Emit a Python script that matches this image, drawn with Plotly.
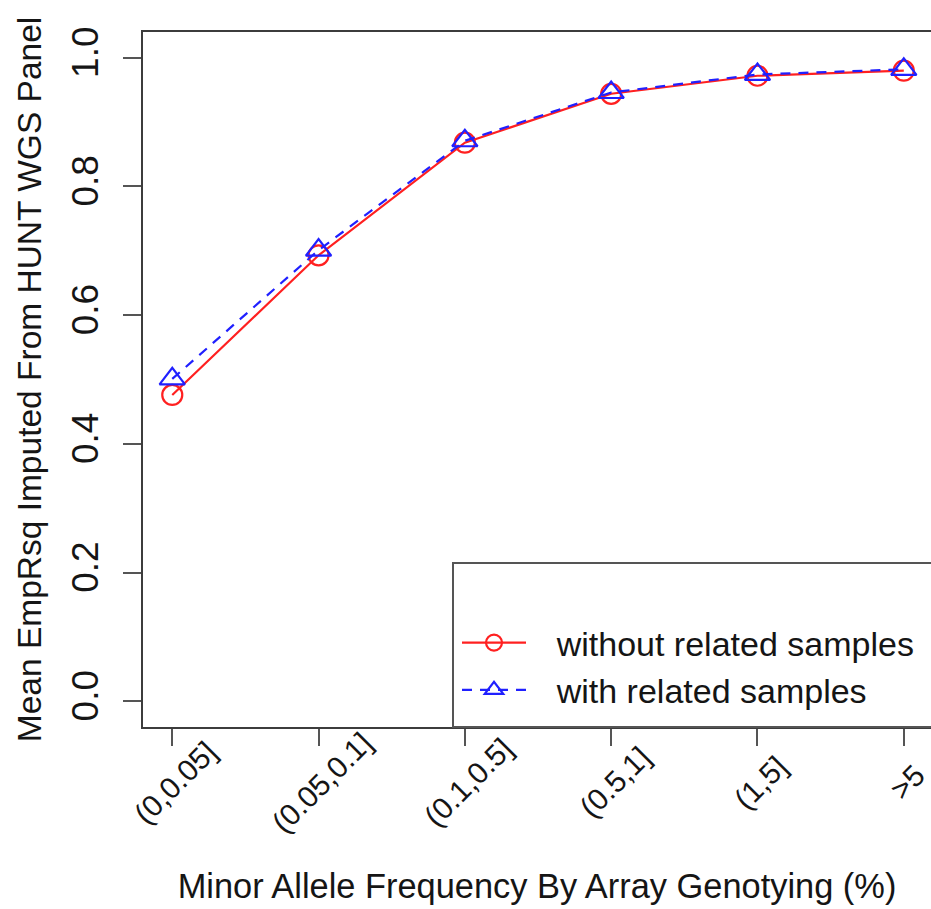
import plotly.graph_objects as go

categories = ["(0,0.05]", "(0.05,0.1]", "(0.1,0.5]", "(0.5,1]", "(1,5]", ">5"]
x_pos = [1, 2, 3, 4, 5, 6]
without_related = [0.476, 0.693, 0.868, 0.944, 0.972, 0.980]
with_related = [0.501, 0.701, 0.871, 0.946, 0.974, 0.982]
y_tick_vals = [0.0, 0.2, 0.4, 0.6, 0.8, 1.0]
y_tick_text = ["0.0", "0.2", "0.4", "0.6", "0.8", "1.0"]

FONT = "Liberation Sans, Arial, Helvetica, sans-serif"
TXT = "#151515"
AX = "#3c3c3c"
NB = "\u00a0\u00a0\u2009"

fig = go.Figure()
fig.add_trace(go.Scatter(
    x=x_pos, y=without_related, mode="lines+markers",
    name=NB + "without related samples",
    line=dict(color="#ff2020", width=2.2),
    marker=dict(symbol="circle-open", size=20, color="#ff2020", line=dict(width=2.2)),
))
fig.add_trace(go.Scatter(
    x=x_pos, y=with_related, mode="lines+markers",
    name=NB + "with related samples",
    line=dict(color="#2020ff", width=2.2, dash="10px,8px"),
    marker=dict(symbol="triangle-up-open", size=22, color="#2020ff", line=dict(width=2.2)),
))

annotations = []
for xv, lab in zip(x_pos, categories):
    annotations.append(dict(
        x=xv, y=0, xref="x", yref="paper", text=lab, showarrow=False,
        textangle=-45, xanchor="center", yanchor="middle",
        xshift=3, yshift=-55, font=dict(family=FONT, size=30, color=TXT),
    ))

fig.update_layout(
    width=931, height=909,
    margin=dict(l=143, r=0, t=32, b=182),
    paper_bgcolor="white", plot_bgcolor="white",
    font=dict(family=FONT, color=TXT),
    showlegend=True,
    legend=dict(
        x=(457 - 143) / 788, y=(727 - 614) / 695, xanchor="left", yanchor="top",
        bgcolor="rgba(0,0,0,0)", borderwidth=0,
        font=dict(family=FONT, size=34, color=TXT),
        itemwidth=64, tracegroupgap=0,
    ),
    xaxis=dict(
        range=[0.8, 6.186], tickvals=x_pos, showticklabels=False,
        ticks="outside", ticklen=17, tickwidth=2, tickcolor="#555",
        showline=True, linecolor=AX, linewidth=2, mirror=True,
        showgrid=False, zeroline=False,
        title=dict(text="Minor Allele Frequency By Array Genotying (%)",
                   font=dict(family=FONT, size=34.4, color=TXT), standoff=129),
    ),
    yaxis=dict(
        range=[-0.04, 1.04], tickvals=y_tick_vals, ticktext=y_tick_text,
        tickangle=-90, tickfont=dict(family=FONT, size=37, color=TXT),
        ticks="outside", ticklen=18, tickwidth=2, tickcolor="#555",
        ticklabelstandoff=10,
        showline=True, linecolor=AX, linewidth=2, mirror=False,
        showgrid=False, zeroline=False,
        title=dict(text="Mean EmpRsq Imputed From HUNT WGS Panel",
                   font=dict(family=FONT, size=33.5, color=TXT), standoff=13),
    ),
    annotations=annotations,
    shapes=[dict(
        type="rect", xref="paper", yref="paper",
        x0=(453 - 143) / 788, x1=1.05, y0=0, y1=(727 - 563) / 695,
        line=dict(color="#555", width=2), fillcolor="rgba(0,0,0,0)", layer="above",
    )],
)

fig.write_html("out.html")
